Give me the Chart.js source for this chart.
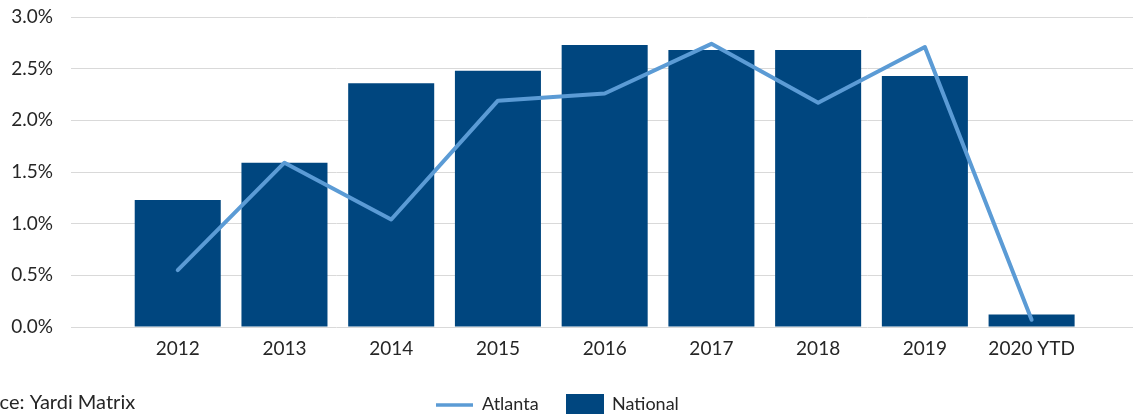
<!DOCTYPE html>
<html>
<head>
<meta charset="utf-8">
<script src="https://cdn.jsdelivr.net/npm/chart.js@4"></script>
<style>
html,body{margin:0;padding:0;background:#fff;overflow:hidden}
#wrap{position:relative;width:1133px;height:414px}
</style>
</head>
<body>
<div id="wrap"><canvas id="c" width="1133" height="414"></canvas></div>
<script>
const categories = ['2012','2013','2014','2015','2016','2017','2018','2019','2020 YTD'];
const atlanta = [0.55, 1.59, 1.04, 2.19, 2.26, 2.74, 2.17, 2.71, 0.07];
const national = [1.23, 1.59, 2.36, 2.48, 2.73, 2.68, 2.68, 2.43, 0.12];
const yTicks = [0, 0.5, 1.0, 1.5, 2.0, 2.5, 3.0];
const sourceText = 'Source: Yardi Matrix';

const FONT = 'Lato';
const TXT = '#262626';
const BAR = '#00467f';
const LINE = '#5b9bd5';

const sourcePlugin = {
  id: 'sourceAndLegend',
  afterDraw(chart) {
    const ctx = chart.ctx;
    ctx.save();
    ctx.font = '20px ' + FONT;
    ctx.fillStyle = TXT;
    ctx.textBaseline = 'alphabetic';
    const w = ctx.measureText('Sour').width;
    ctx.fillText(sourceText, -w, 409);
    // legend
    ctx.font = '18px ' + FONT;
    ctx.textBaseline = 'middle';
    const ds = chart.data.datasets;
    ctx.strokeStyle = ds[0].borderColor;
    ctx.lineWidth = 3.5;
    ctx.beginPath(); ctx.moveTo(436, 405); ctx.lineTo(473, 405); ctx.stroke();
    ctx.fillStyle = TXT;
    ctx.fillText(ds[0].label, 482, 404);
    ctx.fillStyle = ds[1].backgroundColor;
    ctx.fillRect(566, 394, 38, 22);
    ctx.fillStyle = TXT;
    ctx.fillText(ds[1].label, 612, 404);
    ctx.restore();
  }
};

new Chart(document.getElementById('c'), {
  type: 'bar',
  data: {
    datasets: [
      {
        type: 'line',
        label: 'Atlanta',
        data: atlanta.map((v, i) => ({x: i, y: v})),
        borderColor: LINE,
        backgroundColor: LINE,
        borderWidth: 4,
        pointRadius: 0,
        tension: 0,
        borderCapStyle: 'round',
        borderJoinStyle: 'round',
        order: 0
      },
      {
        type: 'bar',
        label: 'National',
        data: national.map((v, i) => ({x: i, y: v})),
        backgroundColor: BAR,
        barPercentage: 0.806,
        categoryPercentage: 1.0,
        order: 1
      }
    ]
  },
  options: {
    responsive: false,
    animation: false,
    devicePixelRatio: 1,
    layout: { padding: { top: 17, right: 0, left: 0, bottom: 0 } },
    plugins: { legend: { display: false }, tooltip: { enabled: false } },
    scales: {
      x: {
        type: 'linear',
        offset: false,
        bounds: 'ticks',
        min: -1,
        max: 8.95,
        grid: { display: false, drawTicks: false, offset: false },
        border: { display: false },
        afterBuildTicks(scale) {
          scale.ticks = categories.map((c, i) => ({ value: i }));
        },
        afterFit(scale) { scale.height = 87; },
        ticks: {
          autoSkip: false,
          maxRotation: 0,
          padding: 10,
          color: TXT,
          font: { family: FONT, size: 19 },
          callback: (v) => categories[v]
        }
      },
      y: {
        min: 0,
        max: 3.0,
        afterBuildTicks(scale) {
          scale.ticks = yTicks.map(v => ({ value: v }));
        },
        afterFit(scale) {
          scale.width = 71;
          scale.paddingTop = 0;
          scale.paddingBottom = 0;
        },
        grid: { color: '#d9d9d9', lineWidth: 1, drawTicks: false },
        border: { display: false },
        ticks: {
          padding: 18,
          color: TXT,
          font: { family: FONT, size: 19 },
          callback: (v) => v.toFixed(1) + '%'
        }
      }
    }
  },
  plugins: [sourcePlugin]
});
</script>
</body>
</html>
